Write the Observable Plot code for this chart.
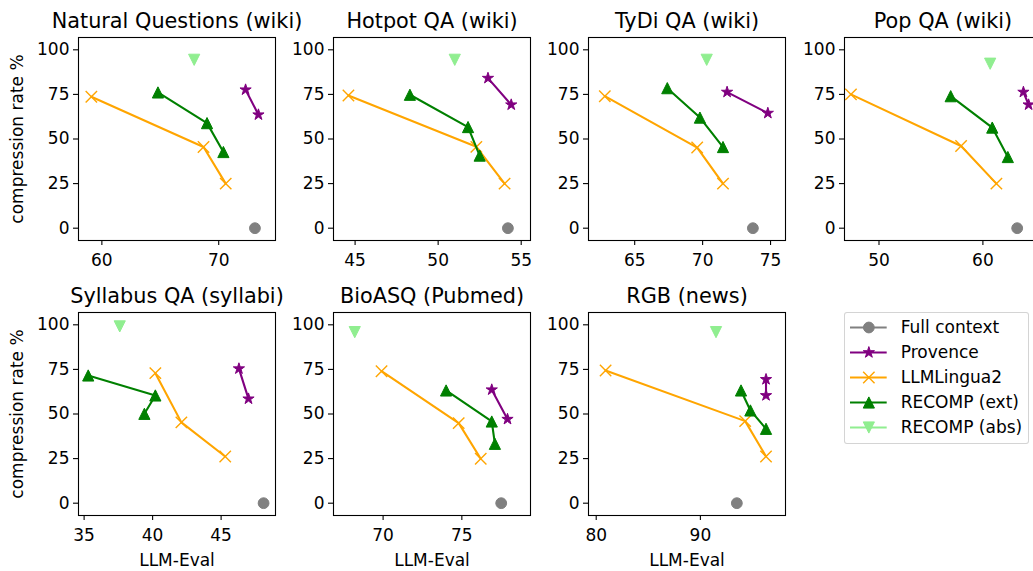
<!DOCTYPE html>
<html><head><meta charset="utf-8">
<script src="https://cdn.jsdelivr.net/npm/d3@7"></script>
<script src="https://cdn.jsdelivr.net/npm/@observablehq/plot@0.6"></script>
<style>
html,body{margin:0;padding:0;background:#fff;overflow:hidden;width:1033px;height:571px;}
#root{position:relative;width:1033px;height:571px;font-family:"DejaVu Sans",sans-serif;}
.panel{position:absolute;}
.panel svg{overflow:visible !important;max-width:none !important;display:block;background:transparent;}
#legend{position:absolute;left:844px;top:312px;width:185px;height:132px;box-shadow:inset 0 0 0 1px #d4d4d4;border-radius:3px;}
</style></head><body><div id="root"></div>
<script>
// ---------- data ----------
const panels = ["Natural Questions (wiki)", "Hotpot QA (wiki)", "TyDi QA (wiki)", "Pop QA (wiki)",
                "Syllabus QA (syllabi)", "BioASQ (Pubmed)", "RGB (news)"];
const methods = ["Full context", "Provence", "LLMLingua2", "RECOMP (ext)", "RECOMP (abs)"];

const fullEval = [73.1, 54.2, 73.7, 63.3, 48.1, 77.5, 93.5];
const fullRate = [0, 0, 0, 0, 0, 0, 0];

const provenceEval = [[72.3, 73.4], [53.0, 54.4], [71.8, 74.8], [63.9, 64.4], [46.3, 47.0], [76.9, 77.9], [96.3, 96.3]];
const provenceRate = [[77.6, 63.6], [84.1, 69.2], [76.3, 64.5], [76.3, 69.2], [75.4, 58.5], [63.6, 47.1], [69.4, 60.4]];

const llmlinguaEval = [[59.1, 68.7, 70.6], [44.6, 52.3, 54.0], [62.8, 69.6, 71.5], [47.3, 57.9, 61.3],
                       [40.2, 42.1, 45.3], [69.9, 74.8, 76.2], [80.9, 94.3, 96.3]];
const llmlinguaRate = [[73.7, 45.5, 25.0], [74.4, 45.6, 25.0], [74.0, 45.2, 25.0], [75.0, 46.1, 25.0],
                       [72.9, 45.3, 26.2], [74.0, 44.9, 24.9], [74.4, 46.0, 26.2]];

const recompExtEval = [[64.8, 69.0, 70.4], [48.3, 51.8, 52.5], [67.4, 69.8, 71.5], [56.9, 60.9, 62.4],
                       [35.3, 40.2, 39.4], [74.0, 76.9, 77.1], [93.9, 94.8, 96.3]];
const recompExtRate = [[76.1, 58.9, 42.7], [74.8, 56.7, 40.7], [78.5, 62.0, 45.5], [74.0, 56.4, 39.9],
                       [71.6, 60.4, 50.1], [63.2, 45.8, 33.3], [63.2, 52.0, 41.7]];

const recompAbsEval = [67.9, 51.0, 70.3, 60.7, 37.6, 68.2, 91.5];
const recompAbsRate = [94.4, 94.4, 94.4, 92.2, 99.1, 95.9, 95.9];

const xTicks = [[60, 70], [45, 50, 55], [65, 70, 75], [50, 60], [35, 40, 45], [70, 75], [80, 90]];
const yTicks = [0, 25, 50, 75, 100];
const xLabel = "LLM-Eval";
const yLabel = "compression rate %";

// ---------- layout / style ----------
const xDomains = [[58.0, 74.86], [43.7, 55.56], [61.6, 76.1], [46.68, 65.64],
                  [34.59, 48.97], [66.85, 79.36], [79.26, 98.17]];
const yDomain = [-6.9, 106.9];
const colors = ["#808080", "#800080", "#ffa500", "#008000", "#90ee90"];
const ML = 70, MR = 20, MT = 45, MB = 60;
const frameW = 197, frameH = 203;
const colLeft = [77.5, 333.3, 588.3, 844];
const rowTop = [36.7, 312];
const FS = 17.0;
const TFS = 20.8;

const triUp = {draw(c, s) { const r = Math.sqrt(s / Math.PI); c.moveTo(0, -r); c.lineTo(r, r); c.lineTo(-r, r); c.closePath(); }};
const triDown = {draw(c, s) { const r = Math.sqrt(s / Math.PI); c.moveTo(0, r); c.lineTo(-r, -r); c.lineTo(r, -r); c.closePath(); }};
const star5 = {draw(c, s) {
  const R = Math.sqrt(s / Math.PI), ri = R * 0.381966;
  for (let k = 0; k < 10; k++) { const a = Math.PI * k / 5, rr = k % 2 ? ri : R;
    const x = rr * Math.sin(a), y = -rr * Math.cos(a); k ? c.lineTo(x, y) : c.moveTo(x, y); }
  c.closePath(); }};
const xMark = {draw(c, s) { const r = Math.sqrt(s / Math.PI); c.moveTo(-r, -r); c.lineTo(r, r); c.moveTo(-r, r); c.lineTo(r, -r); }};

const symStyles = [
  {symbol: "circle", r: 5.4, fill: colors[0], stroke: colors[0], strokeWidth: 1},
  {symbol: star5, r: 5.9, fill: colors[1], stroke: colors[1], strokeWidth: 1},
  {symbol: xMark, r: 5.7, fill: "none", stroke: colors[2], strokeWidth: 1.4},
  {symbol: triUp, r: 5.6, fill: colors[3], stroke: colors[3], strokeWidth: 1},
  {symbol: triDown, r: 5.6, fill: colors[4], stroke: colors[4], strokeWidth: 1}
];

const pts = (xs, ys) => xs.map((x, k) => ({x, y: ys[k]}));

function seriesMarks(data, k) {
  return [
    Plot.line(data, {x: "x", y: "y", stroke: colors[k], strokeWidth: 2.1}),
    Plot.dot(data, {x: "x", y: "y", ...symStyles[k]})
  ];
}

const root = document.getElementById("root");
panels.forEach((title, i) => {
  const row = i < 4 ? 0 : 1, col = i < 4 ? i : i - 4;
  const series = [
    pts([fullEval[i]], [fullRate[i]]),
    pts(provenceEval[i], provenceRate[i]),
    pts(llmlinguaEval[i], llmlinguaRate[i]),
    pts(recompExtEval[i], recompExtRate[i]),
    pts([recompAbsEval[i]], [recompAbsRate[i]])
  ];
  const marks = [
    Plot.axisY({ticks: yTicks, tickSize: 5, tickPadding: 4, fontSize: FS, label: null, strokeWidth: 1.1}),
    Plot.axisX({ticks: xTicks[i], tickSize: 5, tickPadding: 8, fontSize: FS, label: null, strokeWidth: 1.1}),
    ...series.flatMap((d, k) => seriesMarks(d, k)),
    Plot.frame({stroke: "black", strokeWidth: 1.1}),
    Plot.text([title], {text: d => d, frameAnchor: "top", dy: -10, lineAnchor: "bottom", textAnchor: "middle", fontSize: TFS})
  ];
  if (col === 0) marks.push(Plot.text([yLabel], {text: d => d, frameAnchor: "left", rotate: -90, dx: -56, lineAnchor: "bottom", textAnchor: "middle", fontSize: FS}));
  if (row === 1) marks.push(Plot.text([xLabel], {text: d => d, frameAnchor: "bottom", dy: 50, lineAnchor: "bottom", textAnchor: "middle", fontSize: FS}));
  const svg = Plot.plot({
    width: ML + frameW + MR, height: MT + frameH + MB,
    marginLeft: ML, marginRight: MR, marginTop: MT, marginBottom: MB,
    x: {domain: xDomains[i]}, y: {domain: yDomain},
    style: {fontFamily: "DejaVu Sans", fontSize: FS + "px", overflow: "visible", background: "transparent", color: "black"},
    marks
  });
  const div = document.createElement("div");
  div.className = "panel";
  div.style.left = (colLeft[col] - ML) + "px";
  div.style.top = (rowTop[row] - MT) + "px";
  div.appendChild(svg);
  root.appendChild(div);
});

// legend
const legendDiv = document.createElement("div");
legendDiv.id = "legend";
legendDiv.className = "panel";
const legendMarks = methods.flatMap((m, k) => [
  Plot.ruleY([m], {y: d => d, x1: 0, x2: 1, stroke: colors[k], strokeWidth: 2.1}),
  Plot.dot([m], {y: d => d, x: 0.5, ...symStyles[k]}),
  Plot.text([m], {y: d => d, x: 1, text: d => d, dx: 13.5, textAnchor: "start", lineAnchor: "middle", fontSize: FS})
]);
const legendSvg = Plot.plot({
  width: 185, height: 132, margin: 0,
  x: {domain: [0, 1], range: [6, 42.7], axis: null},
  y: {type: "point", domain: methods, range: [13.5, 115.5], padding: 0, axis: null},
  style: {fontFamily: "DejaVu Sans", fontSize: FS + "px", overflow: "visible", background: "transparent", color: "black"},
  marks: legendMarks
});
legendDiv.appendChild(legendSvg);
root.appendChild(legendDiv);
</script>
</body></html>
